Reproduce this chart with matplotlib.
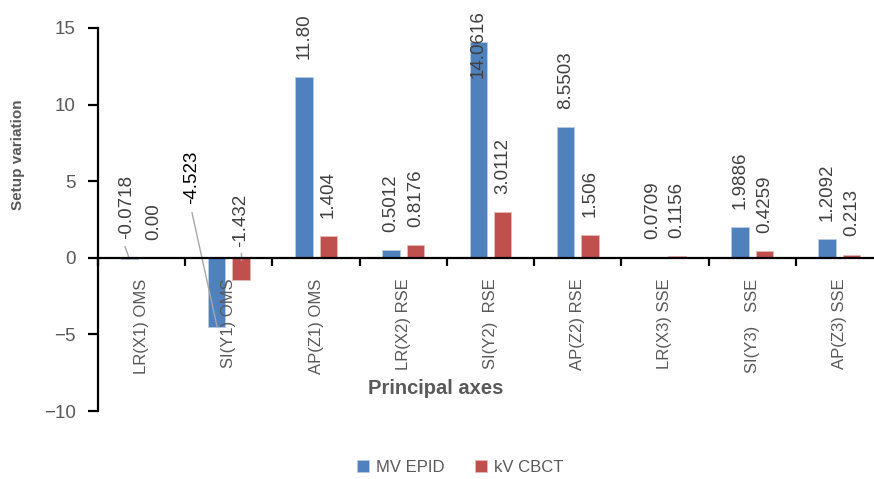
import matplotlib.pyplot as plt
import numpy as np

categories = ['LR(X1) OMS', 'SI(Y1) OMS', 'AP(Z1) OMS', 'LR(X2) RSE', 'SI(Y2)  RSE',
              'AP(Z2) RSE', 'LR(X3) SSE', 'SI(Y3)   SSE', 'AP(Z3) SSE']
mv_epid = [-0.0718, -4.523, 11.80, 0.5012, 14.0616, 8.5503, 0.0709, 1.9886, 1.2092]
kv_cbct = [0.00, -1.432, 1.404, 0.8176, 3.0112, 1.506, 0.1156, 0.4259, 0.213]
mv_text = ['-0.0718', '-4.523', '11.80', '0.5012', '14.0616', '8.5503', '0.0709', '1.9886', '1.2092']
kv_text = ['0.00', '-1.432', '1.404', '0.8176', '3.0112', '1.506', '0.1156', '0.4259', '0.213']

blue = '#4F81BD'
red = '#C0504D'
grey = '#595959'
font = ['Liberation Sans', 'DejaVu Sans']
plt.rcParams['font.family'] = font

fig = plt.figure(figsize=(8.74, 4.79), dpi=100)
ax = fig.add_axes([98/874, 1-411/479, 785/874, 383/479])

x = np.arange(len(categories))
w = 0.2
off = 0.14
ax.bar(x - off, mv_epid, w, color=blue, edgecolor='#B8CCE4', linewidth=0.6, label='MV EPID')
ax.bar(x + off, kv_cbct, w, color=red, edgecolor='#E6B9B8', linewidth=0.6, label='kV CBCT')

ax.set_xlim(-0.5, len(categories) - 0.5)
ax.set_ylim(-10, 15)
ax.set_yticks([-10, -5, 0, 5, 10, 15])

for s in ['top', 'right']:
    ax.spines[s].set_visible(False)
ax.spines['bottom'].set_position(('data', 0))
ax.spines['bottom'].set_linewidth(1.6)
ax.spines['left'].set_linewidth(1.6)

ax.set_xticks(x)
ax.set_xticklabels(categories, rotation=90, va='top', ha='center', fontsize=12, color=grey)
ax.set_xticks(np.arange(len(categories) + 1) - 0.5, minor=True)
ax.tick_params(axis='x', which='major', length=0, pad=15)
ax.tick_params(axis='x', which='minor', length=6, width=1.6, direction='out')
ax.tick_params(axis='y', length=7, width=1.6, pad=9, labelsize=13.5, labelcolor=grey)

lab = dict(rotation=90, ha='center', va='bottom', fontsize=13.5, color='#404040')

# data labels: normal ones sit just above max(value, 0)
special = {(0, 0), (0, 1), (0, 4), (1, 1)}
for k, (vals, texts) in enumerate([(mv_epid, mv_text), (kv_cbct, kv_text)]):
    sign = -1 if k == 0 else 1
    for i, (v, t) in enumerate(zip(vals, texts)):
        if (k, i) in special:
            continue
        ax.annotate(t, (i + sign * off, max(v, 0)), xytext=(0, 13),
                    textcoords='offset points', **lab)

# labels Excel moved around
ax.text(-0.167, 1.24, mv_text[0], **lab)
ax.plot([-0.19, -0.144], [0.72, 0.0], color='#A6A6A6', lw=1)
ax.text(0.578, 3.52, mv_text[1], **{**lab, 'color': 'black'})
ax.plot([0.578, 0.865], [2.94, -4.5], color='#A6A6A6', lw=1)
ax.text(1.14, 0.72, kv_text[1], **lab)
ax.plot([1.14, 1.14], [0.33, -0.13], color='#A6A6A6', lw=1)
ax.text(4 - off, 11.74, mv_text[4], **lab)

fig.text(18/874, 1-155/479, 'Setup variation', rotation=90, ha='center', va='center',
         fontsize=11, fontweight='bold', color=grey)
fig.text(436/874, 1-388/479, 'Principal axes', ha='center', va='center',
         fontsize=14.5, fontweight='bold', color=grey)

fig.legend(loc='center', bbox_to_anchor=(460/874, 1-467/479), ncol=2, frameon=False,
           fontsize=12, handlelength=0.75, handleheight=0.75, columnspacing=1.8,
           handletextpad=0.4, labelcolor=grey)

fig.savefig('out.png', dpi=100)
